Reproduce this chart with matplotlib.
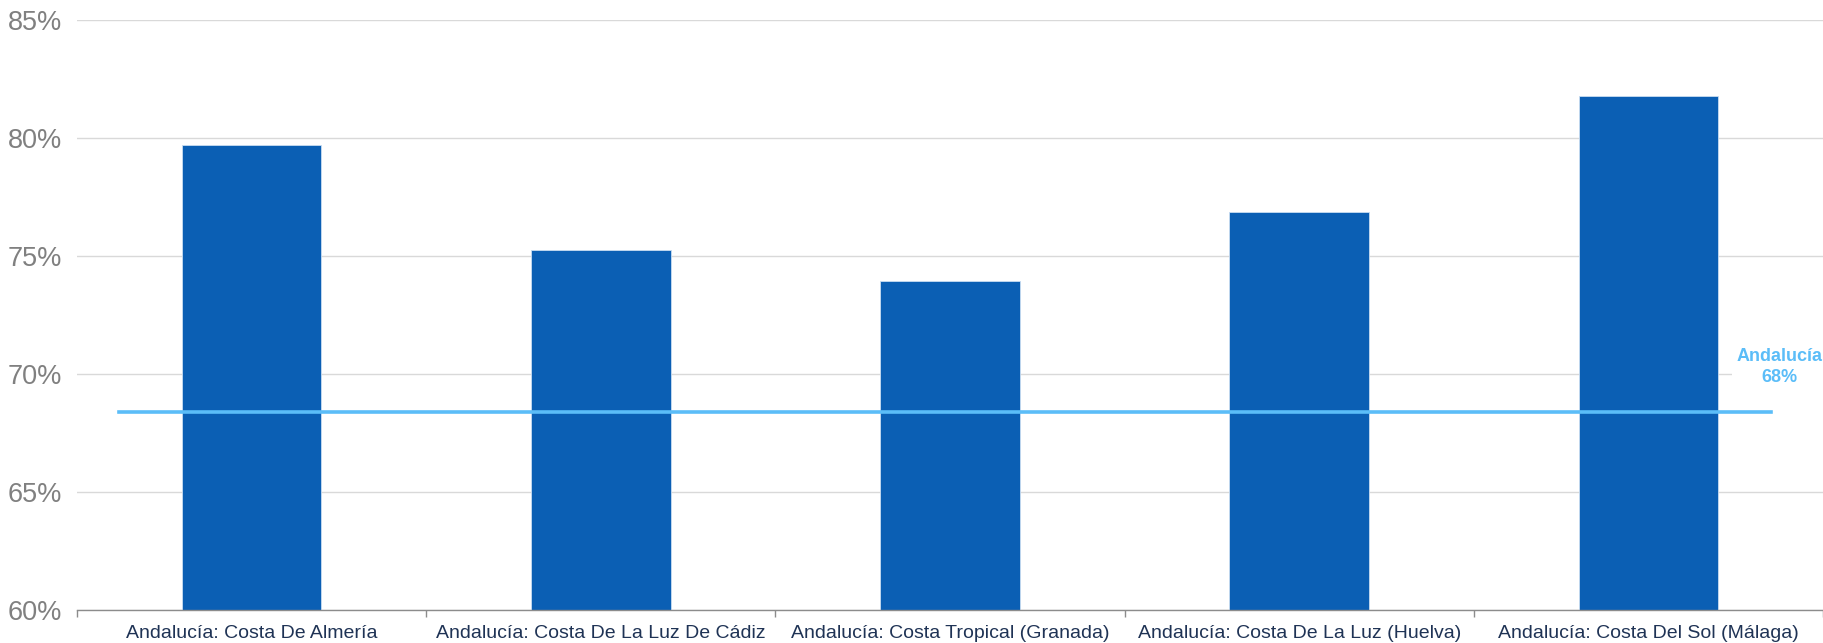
import numpy as np
from matplotlib import pyplot as plt
from matplotlib.ticker import FixedLocator, FuncFormatter

BAR_BLUE = "#0B5FB4"
LINE_BLUE = "#5BBDF8"

categories = [
    "Andalucía: Costa De Almería",
    "Andalucía: Costa De La Luz De Cádiz",
    "Andalucía: Costa Tropical (Granada)",
    "Andalucía: Costa De La Luz (Huelva)",
    "Andalucía: Costa Del Sol (Málaga)",
]
values = [79.7, 75.25, 73.95, 76.85, 81.8]
region_name = "Andalucía"
region_value = 68.4
y_ticks = [60, 65, 70, 75, 80, 85]

plt.rcParams['font.family'] = ['Liberation Sans', 'DejaVu Sans']

fig = plt.figure(figsize=(18.23, 6.43), dpi=100)
ax = fig.add_axes([0.0422, 0.0513, 0.9578, 0.9176])

x = np.arange(len(categories))
ax.bar(x, values, width=0.4, color=BAR_BLUE, edgecolor="#C9DDF2", linewidth=0.6, zorder=2)

# average line for the whole region
ax.plot([-0.38, 4.35], [region_value, region_value], color=LINE_BLUE, linewidth=2.6, zorder=3)
ax.text(4.375, 70.3, "%s\n%d%%" % (region_name, round(region_value)), color=LINE_BLUE,
        fontsize=13, fontweight="bold", ha="center", va="center", linespacing=1.25,
        bbox=dict(facecolor="white", edgecolor="none", pad=3), zorder=4)

ax.set_xlim(-0.5, len(categories) - 0.5)
ax.set_ylim(60, 85)
ax.set_yticks(y_ticks)
ax.yaxis.set_major_formatter(FuncFormatter(lambda v, p: "%d%%" % v))
ax.tick_params(axis="y", length=0, pad=11, labelsize=19.5, labelcolor="#808080")

ax.set_xticks(x)
ax.set_xticklabels(categories)
ax.xaxis.set_minor_locator(FixedLocator(np.arange(-0.5, len(categories), 1.0)))
ax.tick_params(axis="x", which="major", length=0, pad=11, labelsize=14, labelcolor="#1F3355")
ax.tick_params(axis="x", which="minor", length=5, width=1, color="#8C8C8C")

ax.grid(axis="y", color="#D9D9D9", linewidth=1, zorder=0)
ax.set_axisbelow(True)
for s in ["top", "right", "left"]:
    ax.spines[s].set_visible(False)
ax.spines["bottom"].set_color("#8C8C8C")
ax.spines["bottom"].set_linewidth(1)

plt.savefig("out.png", dpi=100)
